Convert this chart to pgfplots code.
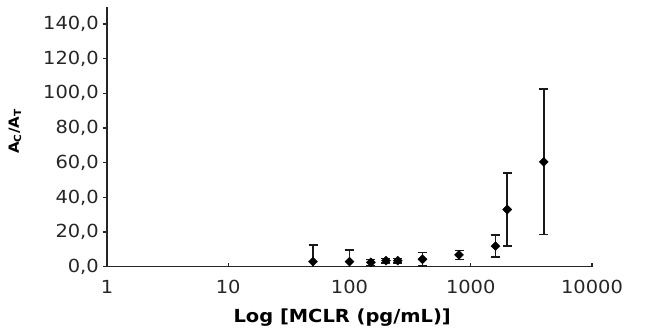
\documentclass[border=0pt]{standalone}
\usepackage{pgfplots}
\pgfplotsset{compat=1.18}
\usepackage{fontspec}
\setmainfont{DejaVu Sans}[FakeStretch=1.08]
\pgfplotstableread{
x y e
50 2.9 9.6
100 2.9 6.7
150 2.5 1.7
200 3.5 1.2
250 3.5 1.2
400 4.3 3.8
800 6.8 2.6
1600 11.9 6.3
2000 33.0 21.2
4000 60.5 42.0
}\mydata
\begin{document}
\fontsize{18bp}{21bp}\selectfont
\begin{tikzpicture}
\useasboundingbox (-107bp,-64.3bp) rectangle (542bp,266.7bp);
\begin{axis}[
  at={(0,0)}, anchor=south west,
  scale only axis, width=485bp, height=260bp,
  xmode=log, xmin=1, xmax=10000, ymin=0, ymax=150,
  axis x line=bottom, axis y line=left,
  axis line style={-, line width=1.5bp, black!85},
  tick align=inside, major tick length=4bp,
  tick style={line width=1.3bp, black!85},
  y tick style={xshift=-4bp},
  minor x tick style={draw=none},
  xtick={1,10,100,1000,10000}, xticklabels={1,10,100,1000,10000},
  ytick={0,20,...,140},
  yticklabels={{0,0},{20,0},{40,0},{60,0},{80,0},{100,0},{120,0},{140,0}},
  ticklabel style={font=\fontsize{18bp}{21bp}\selectfont, text=black!85},
  yticklabel style={xshift=-2bp},
  xticklabel style={yshift=-7.5bp},
  xlabel={\bfseries Log [MCLR (pg/mL)]},
  xlabel style={at={(axis description cs:0.485,0)}, anchor=center, yshift=-51bp, font=\fontsize{18bp}{21bp}\selectfont},
  ylabel={\bfseries A\textsubscript{C}/A\textsubscript{T}},
  ylabel style={at={(axis description cs:0,0.52)}, anchor=center, yshift=92bp, font=\fontsize{14bp}{16bp}\selectfont},
]
\addplot[black, only marks, mark=square*, mark size=3.2bp, mark options={rotate=45},
  error bars/.cd, y dir=both, y explicit,
  error bar style={line width=1.6bp, black!90},
  error mark options={rotate=90, mark size=4.5bp, line width=1.6bp, black!90}]
  table[x=x, y=y, y error=e] {\mydata};
\end{axis}
\end{tikzpicture}
\end{document}
